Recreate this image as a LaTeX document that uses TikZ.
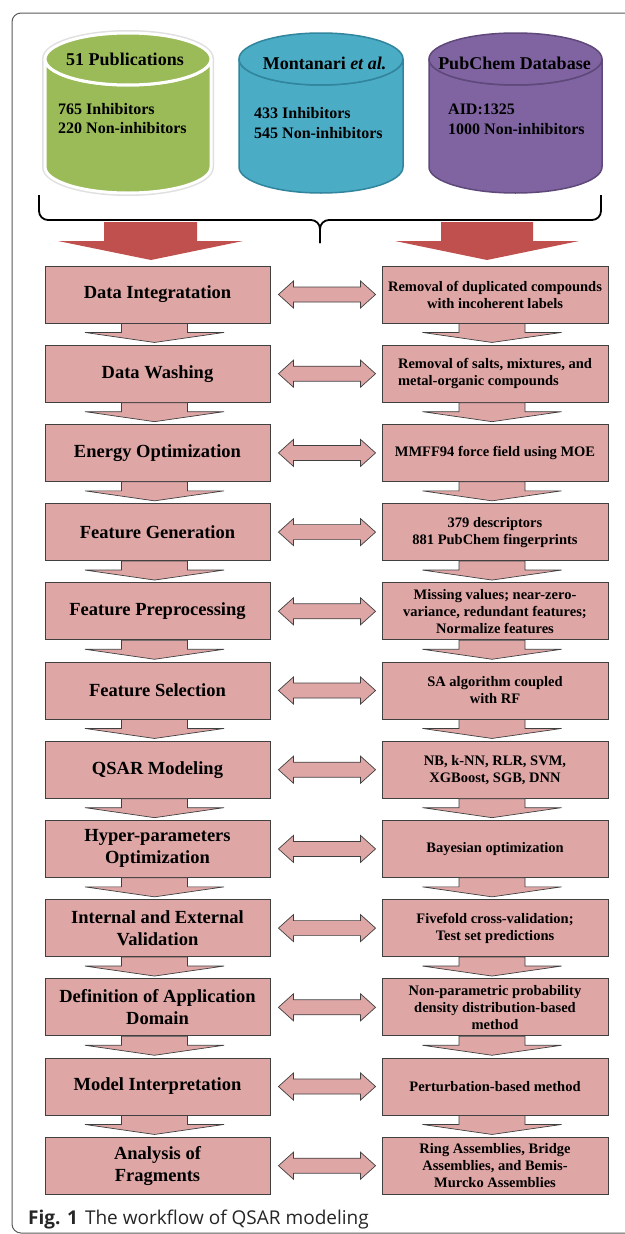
\documentclass[tikz,border=0pt]{standalone}
\usepackage{fontspec}
\setmainfont{Liberation Serif}
\newfontfamily\capfont{Open Sans}
\usetikzlibrary{calc}

\definecolor{boxpink}{HTML}{DFA6A6}
\definecolor{boxline}{HTML}{404040}
\definecolor{bigred}{HTML}{C0504D}
\definecolor{pubgreen}{HTML}{9BBB59}
\definecolor{montblue}{HTML}{4BACC6}
\definecolor{montline}{HTML}{31859C}
\definecolor{pcpurple}{HTML}{8064A2}
\definecolor{pcline}{HTML}{5F497A}
\definecolor{framegray}{HTML}{5A5A5A}

\tikzset{
  stepbox/.style={draw=boxline, fill=boxpink, line width=0.9pt, minimum width=225pt,
    minimum height=57pt, inner sep=2pt, align=center,
    font=\fontsize{18.5}{22}\selectfont\bfseries},
  infobox/.style={stepbox, minimum width=226pt, font=\fontsize{14.5}{17}\selectfont\bfseries},
  blockarrow/.style={draw=boxline, fill=boxpink, line width=0.7pt},
  dbtitle/.style={inner sep=0pt, font=\fontsize{18}{21}\selectfont\bfseries},
  dbtext/.style={inner sep=0pt, anchor=west, align=left, font=\fontsize{16}{19.5}\selectfont\bfseries},
}

% cylinder: centre x, x radius, style
\newcommand{\dbdrum}[3]{%
  \draw[#3] (#1-#2,59) -- (#1-#2,167) arc[start angle=180, end angle=0, x radius=#2, y radius=26]
    -- (#1+#2,59) arc[start angle=0, end angle=180, x radius=#2, y radius=26] -- cycle;
  \draw[#3] (#1,59) ellipse[x radius=#2, y radius=26];
}
% flat arrow below a box
\newcommand{\flowdown}[1]{%
  \draw[blockarrow] ($(#1.south)+(-36,0)$) -- ++(0,9) -- ++(-36.5,0) -- ($(#1.south)+(-3,19)$)
    -- ($(#1.south)+(66.5,9)$) -- ++(-36.5,0) -- ($(#1.south)+(30,0)$) -- cycle;
}
% two-headed arrow between a step and its detail
\newcommand{\biarrow}[2]{%
  \draw[blockarrow] ($(#1.east)+(8,0)$) -- ++(15,-13.5) -- ++(0,6) -- ($(#2.west)+(-21,-7.5)$)
    -- ++(0,-6) -- ($(#2.west)+(-6,0)$) -- ++(-15,13.5) -- ++(0,-6) -- ($(#1.east)+(23,7.5)$)
    -- ++(0,6) -- cycle;
}

\begin{document}
\begin{tikzpicture}[x=1pt, y=-1pt]
    \useasboundingbox (0,0) rectangle (624,1234);
    \fill[white] (0,0) rectangle (624,1234);
    \draw[framegray, line width=1pt, rounded corners=9pt] (12,13) rectangle (660,1233);

    % data sources
    \dbdrum{128}{83}{draw=black!12, line width=6pt}
    \dbdrum{128}{83}{fill=pubgreen, draw=white, line width=3pt}
    \dbdrum{321}{82}{fill=montblue, draw=montline, line width=1.5pt}
    \dbdrum{515.5}{86.5}{fill=pcpurple, draw=pcline, line width=1.5pt}
    \node[dbtitle] (pubtitle) at (125,59) {51 Publications};
    \node[dbtext] (pubdata) at (58,118.5) {765 Inhibitors\\220 Non-inhibitors};
    \node[dbtitle] (monttitle) at (324.5,63) {Montanari \textit{et al.}};
    \node[dbtext] (montdata) at (254,123) {433 Inhibitors\\545 Non-inhibitors};
    \node[dbtitle] (pctitle) at (514.5,63) {PubChem Database};
    \node[dbtext] (pcdata) at (448,119.5) {AID:1325\\1000 Non-inhibitors};

    % merging arrows and brace
    \fill[bigred] (104,222) -- (104,241) -- (58,241) -- (151,260) -- (243,241) -- (197,241) -- (197,222) -- cycle;
    \fill[bigred] (441,222) -- (441,241) -- (395,241) -- (487,260) -- (579,241) -- (533,241) -- (533,222) -- cycle;
    \draw[line width=1.8pt, rounded corners=9pt] (39,195) |- (320,220) -- (320,243);
    \draw[line width=1.8pt, rounded corners=9pt] (601,195) |- (320,220) -- (320,243);

    % workflow steps
    \node[stepbox] (L1) at (157.5,294.5) {Data Integratation};
    \node[stepbox] (L2) at (157.5,373.7) {Data Washing};
    \node[stepbox] (L3) at (157.5,452.9) {Energy Optimization};
    \node[stepbox] (L4) at (157.5,532.1) {Feature Generation};
    \node[stepbox] (L5) at (157.5,611.3) {Feature Preprocessing};
    \node[stepbox] (L6) at (157.5,690.5) {Feature Selection};
    \node[stepbox] (L7) at (157.5,769.7) {QSAR Modeling};
    \node[stepbox] (L8) at (157.5,848.9) {Hyper-parameters\\Optimization};
    \node[stepbox] (L9) at (157.5,928.1) {Internal and External\\Validation};
    \node[stepbox] (L10) at (157.5,1007.3) {Definition of Application\\Domain};
    \node[stepbox] (L11) at (157.5,1086.5) {Model Interpretation};
    \node[stepbox] (L12) at (157.5,1165.7) {Analysis of\\Fragments};

    % details
    \node[infobox] (R1) at (495,294.5) {Removal of duplicated compounds\\with incoherent labels};
    \node[infobox, align=left] (R2) at (495,373.7) {Removal of salts, mixtures, and\\metal-organic compounds};
    \node[infobox] (R3) at (495,452.9) {MMFF94 force field using MOE};
    \node[infobox] (R4) at (495,532.1) {379 descriptors\\881 PubChem fingerprints};
    \node[infobox] (R5) at (495,611.3) {Missing values; near-zero-\\variance, redundant features;\\Normalize features};
    \node[infobox] (R6) at (495,690.5) {SA algorithm coupled\\with RF};
    \node[infobox] (R7) at (495,769.7) {NB, k-NN, RLR, SVM,\\XGBoost, SGB, DNN};
    \node[infobox] (R8) at (495,848.9) {Bayesian optimization};
    \node[infobox] (R9) at (495,928.1) {Fivefold cross-validation;\\Test set predictions};
    \node[infobox] (R10) at (495,1007.3) {Non-parametric probability\\density distribution-based\\method};
    \node[infobox] (R11) at (495,1086.5) {Perturbation-based method};
    \node[infobox] (R12) at (495,1165.7) {Ring Assemblies, Bridge\\Assemblies, and Bemis-\\Murcko Assemblies};

    \foreach \i in {1,...,11} {
        \flowdown{L\i}
        \flowdown{R\i}
    }
    \foreach \i in {1,...,12} {
        \biarrow{L\i}{R\i}
    }

    \node[anchor=west, inner sep=0pt, font=\capfont\fontsize{19}{22}\selectfont, text=black!85] (caption) at (28,1219)
        {\textbf{Fig. 1}\hspace{7pt}The workflow of QSAR modeling};
\end{tikzpicture}
\end{document}
